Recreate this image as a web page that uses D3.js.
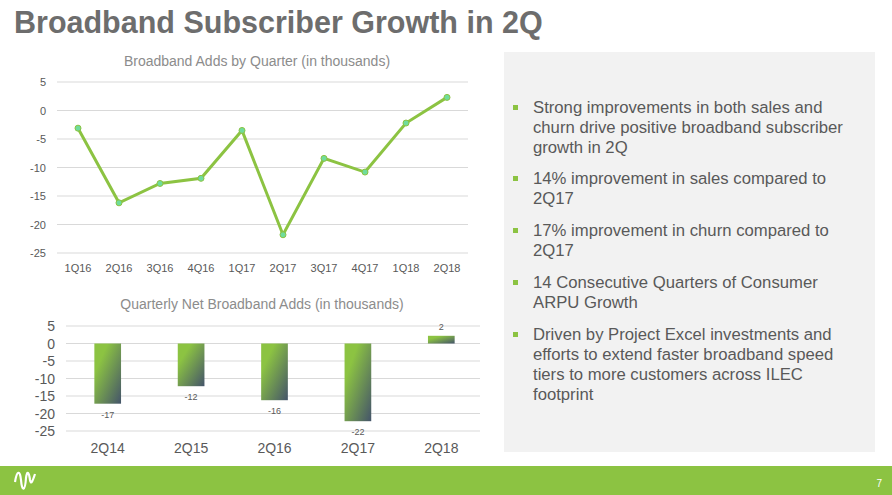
<!DOCTYPE html>
<html><head><meta charset="utf-8">
<script src="https://cdn.jsdelivr.net/npm/d3@7"></script>
<style>body{margin:0;background:#fff}svg{display:block;font-family:"Liberation Sans",Arial,sans-serif}</style>
</head><body>
<script>
var quarters = ["1Q16","2Q16","3Q16","4Q16","1Q17","2Q17","3Q17","4Q17","1Q18","2Q18"];
var quarterAdds = [-3.1,-16.2,-12.8,-11.9,-3.5,-21.8,-8.4,-10.8,-2.2,2.3];
var years = ["2Q14","2Q15","2Q16","2Q17","2Q18"];
var netAdds = [-17.2,-12.2,-16.2,-22.2,2.2];
var netLabels = ["-17","-12","-16","-22","2"];
var yTicks = [5,0,-5,-10,-15,-20,-25];
var bullets = [
  ["Strong improvements in both sales and","churn drive positive broadband subscriber","growth in 2Q"],
  ["14% improvement in sales compared to","2Q17"],
  ["17% improvement in churn compared to","2Q17"],
  ["14 Consecutive Quarters of Consumer","ARPU Growth"],
  ["Driven by Project Excel investments and","efforts to extend faster broadband speed","tiers to more customers across ILEC","footprint"]
];
var bulletY = [113,184,236,288,340];

var green = "#8cc342", textC = "#595959", gridC = "#d9d9d9";
var svg = d3.select("body").append("svg").attr("width",892).attr("height",495);

svg.append("text").attr("x",14).attr("y",33).text("Broadband Subscriber Growth in 2Q")
  .attr("font-size",30.5).attr("font-weight","bold").attr("fill","#6d6d6d");

// grey panel and footer
svg.append("rect").attr("x",504).attr("y",52).attr("width",371).attr("height",400).attr("fill","#f2f2f2");
svg.append("rect").attr("x",0).attr("y",466).attr("width",892).attr("height",29).attr("fill",green);
svg.append("text").attr("x",882).attr("y",487).text("7").attr("font-size",10).attr("fill","#fff").attr("text-anchor","end");
svg.append("path").attr("d","M15,482 C17,470 20,470 21,480 C22,492 25,492 26,478 C27,470 29,472 30,480 C31,486 33,480 35,474")
  .attr("fill","none").attr("stroke","#fff").attr("stroke-width",2.2);

bullets.forEach(function(b,i){
  svg.append("rect").attr("x",513).attr("y",bulletY[i]-8).attr("width",5).attr("height",5).attr("fill",green);
  b.forEach(function(line,j){
    svg.append("text").attr("x",533).attr("y",bulletY[i]+j*20).text(line)
      .attr("font-size",16.7).attr("fill",textC);
  });
});

// top line chart
var x1 = d3.scalePoint().domain(quarters).range([78,447]);
var y1 = d3.scaleLinear().domain([-25,5]).range([253,82]);
svg.append("text").attr("x",257).attr("y",66).attr("text-anchor","middle").text("Broadband Adds by Quarter (in thousands)")
  .attr("font-size",14).attr("fill","#8c8c8c");
var g1 = svg.append("g");
g1.selectAll("line.grid").data(yTicks).enter().append("line")
  .attr("x1",57).attr("x2",468).attr("y1",function(d){return y1(d);}).attr("y2",function(d){return y1(d);})
  .attr("stroke",gridC);
g1.selectAll("text.yl").data(yTicks).enter().append("text")
  .attr("x",46).attr("y",function(d){return y1(d)+4;}).attr("text-anchor","end").text(function(d){return d;})
  .attr("font-size",11).attr("fill",textC);
g1.selectAll("text.xl").data(quarters).enter().append("text")
  .attr("x",function(d){return x1(d);}).attr("y",272).attr("text-anchor","middle").text(function(d){return d;})
  .attr("font-size",11).attr("fill",textC);
var line = d3.line().x(function(d,i){return x1(quarters[i]);}).y(function(d){return y1(d);});
g1.append("path").datum(quarterAdds).attr("d",line).attr("fill","none").attr("stroke",green).attr("stroke-width",3);
g1.selectAll("circle").data(quarterAdds).enter().append("circle")
  .attr("cx",function(d,i){return x1(quarters[i]);}).attr("cy",function(d){return y1(d);}).attr("r",3)
  .attr("fill","#6fdc9c").attr("stroke",green).attr("stroke-width",1);

// bottom bar chart
var defs = svg.append("defs");
var grad = defs.append("linearGradient").attr("id","bg").attr("x1","0").attr("y1","0").attr("x2","1").attr("y2","1");
grad.append("stop").attr("offset","0.25").attr("stop-color",green);
grad.append("stop").attr("offset","1").attr("stop-color","#44546a");
var x2 = d3.scaleBand().domain(years).range([66,483]).paddingInner(0.68).paddingOuter(0.34);
var y2 = d3.scaleLinear().domain([-25,5]).range([431,326]);
svg.append("text").attr("x",262).attr("y",309).attr("text-anchor","middle").text("Quarterly Net Broadband Adds (in thousands)")
  .attr("font-size",14).attr("fill","#8c8c8c");
var g2 = svg.append("g");
g2.selectAll("line").data(yTicks).enter().append("line")
  .attr("x1",66).attr("x2",480).attr("y1",function(d){return y2(d);}).attr("y2",function(d){return y2(d);})
  .attr("stroke",gridC);
g2.selectAll("text.yl").data(yTicks).enter().append("text")
  .attr("x",55).attr("y",function(d){return y2(d)+5;}).attr("text-anchor","end").text(function(d){return d;})
  .attr("font-size",14).attr("fill",textC);
g2.selectAll("rect").data(netAdds).enter().append("rect")
  .attr("x",function(d,i){return x2(years[i]);}).attr("width",x2.bandwidth())
  .attr("y",function(d){return y2(Math.max(0,d));}).attr("height",function(d){return Math.abs(y2(d)-y2(0));})
  .attr("fill","url(#bg)");
g2.selectAll("text.vl").data(netAdds).enter().append("text")
  .attr("x",function(d,i){return x2(years[i])+x2.bandwidth()/2;})
  .attr("y",function(d){return d<0 ? y2(d)+14 : y2(d)-6;}).attr("text-anchor","middle")
  .text(function(d,i){return netLabels[i];}).attr("font-size",9).attr("fill",textC);
g2.selectAll("text.xl").data(years).enter().append("text")
  .attr("x",function(d){return x2(d)+x2.bandwidth()/2;}).attr("y",453).attr("text-anchor","middle").text(function(d){return d;})
  .attr("font-size",14).attr("fill",textC);
</script>
</body></html>
